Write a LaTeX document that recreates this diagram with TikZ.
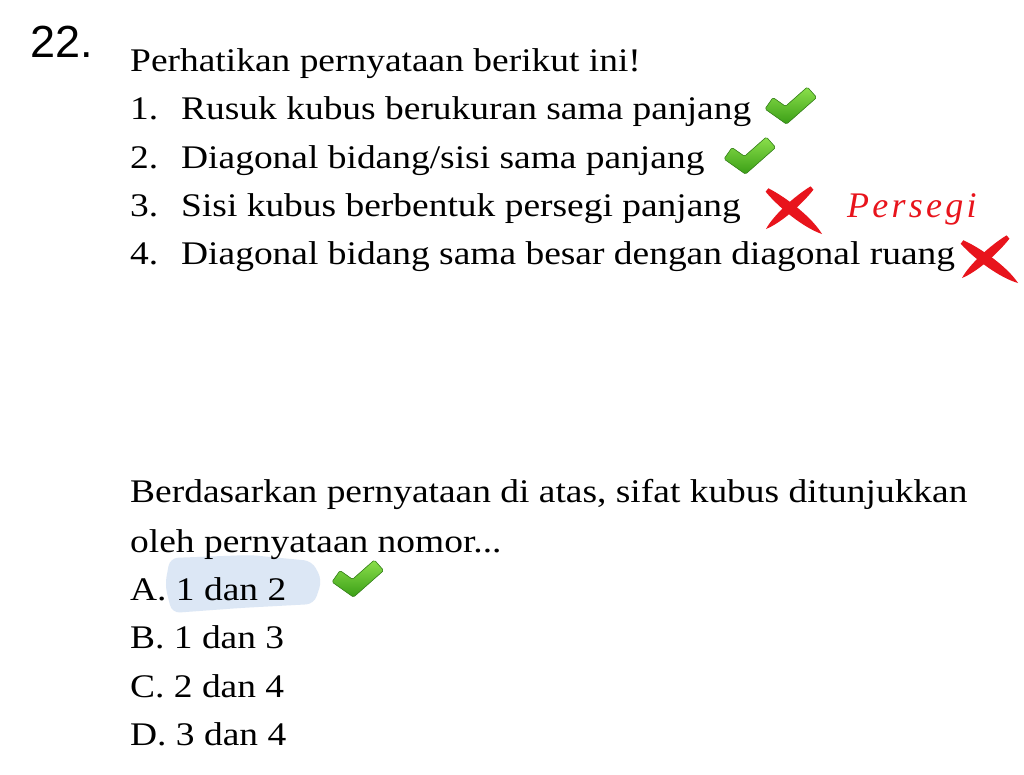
\documentclass[tikz,border=0pt]{standalone}
\usepackage{fontspec}
\setmainfont[FakeStretch=1.135]{Liberation Serif}
\newfontfamily\numfont{Liberation Sans}
\newfontfamily\persfont[LetterSpace=9]{Liberation Serif}
\usetikzlibrary{calc}
\definecolor{crossred}{HTML}{E8141C}
\definecolor{hlblue}{RGB}{220,231,245}
\definecolor{chklight}{HTML}{8CE04C}
\definecolor{chkdark}{HTML}{3A9E16}
\definecolor{chkedge}{HTML}{3C8A1F}
\tikzset{
  txt/.style={anchor=base west, inner sep=0pt, font=\fontsize{33}{40}\selectfont},
  chk/.pic={\fill[rounded corners=1.5pt, top color=chklight, bottom color=chkdark, draw=chkedge, line width=0.6pt]
     (2.96,21.96) -- (11.04,10.52) -- (23.51,19.32) -- (45.36,0) -- (54.64,10.48) -- (24.49,37.16) -- cycle;}
}
\newcommand\brushstroke[3]{%
  \coordinate (bsa) at (#1); \coordinate (bsb) at (#2);
  \coordinate (bsc) at ($(bsa)!0.3!(bsb)$);
  \coordinate (bsd) at ($(bsa)!0.75!(bsb)$);
  \fill[crossred] ($(bsa)!2.2pt!90:(bsb)$) .. controls ($(bsc)!#3!90:(bsb)$) and ($(bsd)!#3!90:(bsb)$) .. (bsb)
     .. controls ($(bsd)!#3!-90:(bsb)$) and ($(bsc)!#3!-90:(bsb)$) .. ($(bsa)!2.2pt!-90:(bsb)$) -- cycle;}
\begin{document}
\begin{tikzpicture}[x=1pt,y=-1pt]
\useasboundingbox[fill=white] (0,0) rectangle (1024,774);
% highlight
\fill[hlblue, rounded corners=8pt] (170,558) -- (250,555) -- (312,561) -- (322,580) -- (314,604) -- (240,608) -- (172,613) -- (165,585) -- cycle;
% number
\node[anchor=base west, inner sep=0pt, font=\numfont\fontsize{45}{50}\selectfont] (qnum) at (30,57) {22.};
% texts
\node[txt] (head) at (130,71) {Perhatikan pernyataan berikut ini!};
\node[txt] (n1) at (130,119) {1.};
\node[txt] (t1) at (181,119) {Rusuk kubus berukuran sama panjang};
\node[txt] (n2) at (130,168) {2.};
\node[txt] (t2) at (181,168) {Diagonal bidang/sisi sama panjang};
\node[txt] (n3) at (130,216) {3.};
\node[txt] (t3) at (181,216) {Sisi kubus berbentuk persegi panjang};
\node[txt] (n4) at (130,264) {4.};
\node[txt] (t4) at (181,264) {Diagonal bidang sama besar dengan diagonal ruang};
\node[anchor=base west, inner sep=0pt, text=crossred, font=\persfont\itshape\fontsize{36}{40}\selectfont] (pers) at (847,217) {Persegi};
\node[txt] (q1) at (130,502) {Berdasarkan pernyataan di atas, sifat kubus ditunjukkan};
\node[txt] (q2) at (130,552) {oleh pernyataan nomor...};
\node[txt] (oa) at (130,600) {A. 1 dan 2};
\node[txt] (ob) at (130,648) {B. 1 dan 3};
\node[txt] (oc) at (130,697) {C. 2 dan 4};
\node[txt] (od) at (130,745) {D. 3 dan 4};
% checks
\pic at (762,87) {chk};
\pic at (721,137) {chk};
\pic at (329,560) {chk};
% crosses
\brushstroke{812,188}{766,229}{5.5pt}
\brushstroke{767,190}{822,234}{6.5pt}
\brushstroke{1008,237}{962,278}{5.5pt}
\brushstroke{962,242}{1018,283}{6.5pt}
\end{tikzpicture}
\end{document}
